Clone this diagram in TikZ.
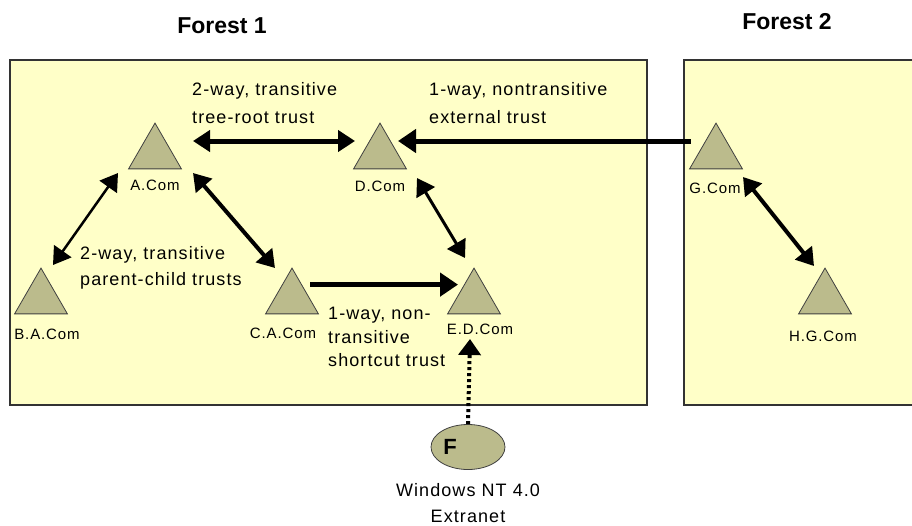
\documentclass[tikz,border=0pt]{standalone}
\usepackage{fontspec}
\setmainfont{Liberation Sans}
\newfontfamily\smallsans[LetterSpace=6]{Liberation Sans}
\usetikzlibrary{arrows.meta,calc,positioning,shapes.geometric}
\definecolor{forestfill}{HTML}{FFFFC8}
\definecolor{domfill}{HTML}{BBBB8C}
\tikzset{
        forestbox/.style = {draw=black!80, line width=1.2pt, fill=forestfill},
        domtri/.style = {regular polygon, regular polygon sides=3,
            minimum size=61pt, inner sep=0pt,
            draw=black!75, line width=0.8pt, fill=domfill},
        dlabel/.style = {font=\fontsize{15}{15}\smallsans, inner sep=0pt},
        note/.style = {font=\fontsize{18}{#1}\smallsans, align=left,
            anchor=north west, inner sep=0pt},
        ftitle/.style = {font=\fontsize{23}{23}\selectfont\bfseries, inner sep=0pt},
        twoway/.style = {{Triangle[length=17pt,width=21pt]}-{Triangle[length=17pt,width=21pt]}, line width=#1},
        oneway/.style = {-{Triangle[length=18pt,width=23pt]}, line width=#1},
    }

\begin{document}
\begin{tikzpicture}[x=1pt,y=-1pt]
    \useasboundingbox (0,0) rectangle (912,525);

    % the two forests
    \filldraw[forestbox] (10,60) rectangle (647,405);
    \fill[forestfill] (684,60) rectangle (912,405);
    \draw[forestbox, fill=none] (912,60) -- (684,60) -- (684,405) -- (912,405);
    \node[ftitle] (title1) at (222,25.5) {Forest 1};
    \node[ftitle] (title2) at (787,21.7) {Forest 2};

    % domains
    \node[domtri] (acom) at (155,153.6) {};
    \node[domtri] (dcom) at (380,153.6) {};
    \node[domtri] (gcom) at (716,153.6) {};
    \node[domtri] (bacom) at (41,298.6) {};
    \node[domtri] (cacom) at (292,298.6) {};
    \node[domtri] (edcom) at (474,298.6) {};
    \node[domtri] (hgcom) at (825,298.6) {};

    \node[dlabel] (acomlbl) at ($(acom)+(0,31.4)$) {A.Com};
    \node[dlabel] (dcomlbl) at ($(dcom)+(0,32.4)$) {D.Com};
    \node[dlabel] (gcomlbl) at ($(gcom)+(-1,34.5)$) {G.Com};
    \node[dlabel] (bacomlbl) at ($(bacom)+(6,35.4)$) {B.A.Com};
    \node[dlabel] (cacomlbl) at ($(cacom)+(-9,34.4)$) {C.A.Com};
    \node[dlabel] (edcomlbl) at ($(edcom)+(6,30.4)$) {E.D.Com};
    \node[dlabel] (hgcomlbl) at ($(hgcom)+(-2,37.4)$) {H.G.Com};

    % NT 4.0 domain outside the forests
    \node[ellipse, minimum width=74pt, minimum height=45pt, inner sep=0pt,
          draw=black!75, line width=0.8pt, fill=domfill] (fnt) at (468,447) {};
    \node[font=\fontsize{22}{22}\selectfont\bfseries, inner sep=0pt] (fletter) at ($(fnt)+(-18,0)$) {F};
    \node[note=26, align=center, anchor=north] (fntlbl) at (468,483) {Windows NT 4.0\\Extranet};

    % trusts
    \draw[twoway=5pt] ($(acom)+(38,-12.6)$) -- ($(dcom)+(-25,-12.6)$);
    \draw[oneway=5pt] ($(gcom)+(-25.3,-12.6)$) -- ($(dcom)+(18,-12.6)$);
    \draw[twoway=2.5pt] ($(acom)+(-37,19.4)$) -- ($(bacom)+(12,-33.6)$);
    \draw[twoway=4pt] ($(acom)+(38,19.4)$) -- ($(cacom)+(-17,-30.6)$);
    \draw[twoway=3pt] ($(dcom)+(37,24.4)$) -- ($(edcom)+(-9,-40.6)$);
    \draw[oneway=5pt] ($(cacom)+(18,-14)$) -- ($(edcom)+(-16,-14)$);
    \draw[twoway=4pt] ($(gcom)+(27,23.4)$) -- ($(hgcom)+(-11,-32.6)$);
    \draw[-{Triangle[length=16pt,width=22pt]}, line width=4pt, dash pattern=on 3pt off 3pt]
        (fnt.north) -- ($(edcom)+(-4,40.4)$);

    \node[note=27.3] (rootnote) at (192,82.5) {2-way, transitive\\tree-root trust};
    \node[note=27.3] (extnote) at (429,82.5) {1-way, nontransitive\\external trust};
    \node[note=25.7] (childnote) at (80,246.7) {2-way, transitive\\parent-child trusts};
    \node[note=23.5] (shortnote) at (328,307.3) {1-way, non-\\transitive\\shortcut trust};
\end{tikzpicture}
\end{document}
